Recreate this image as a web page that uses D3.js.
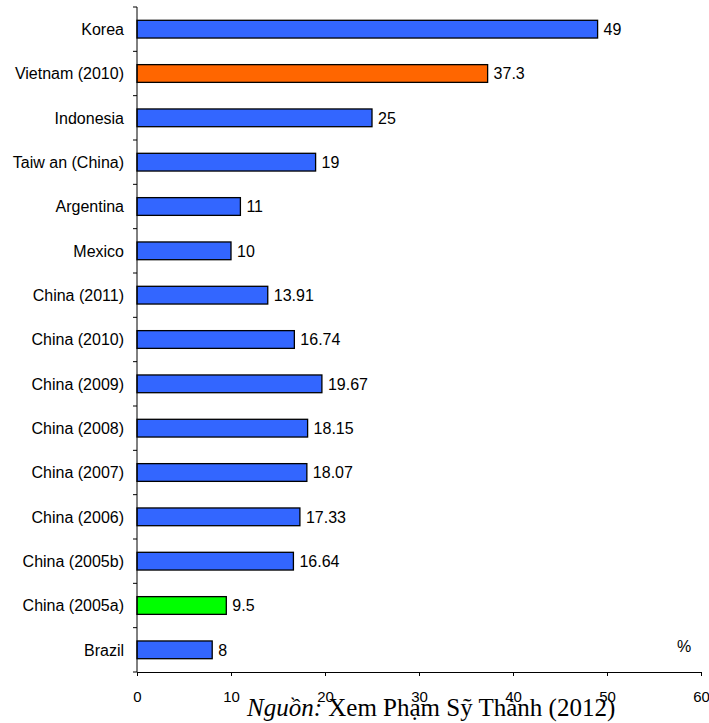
<!DOCTYPE html>
<html>
<head>
<meta charset="utf-8">
<script src="https://cdn.jsdelivr.net/npm/d3@7"></script>
<style>
  html, body { margin: 0; padding: 0; background: #fff; }
  svg { display: block; }
</style>
</head>
<body>
<svg id="chart" width="709" height="723"></svg>
<script>
// Categories listed top to bottom
const categories = [
  "Korea", "Vietnam (2010)", "Indonesia", "Taiw an (China)", "Argentina", "Mexico",
  "China (2011)", "China (2010)", "China (2009)", "China (2008)", "China (2007)",
  "China (2006)", "China (2005b)", "China (2005a)", "Brazil"
];
const values = [49, 37.3, 25, 19, 11, 10, 13.91, 16.74, 19.67, 18.15, 18.07, 17.33, 16.64, 9.5, 8];
const valueLabels = ["49", "37.3", "25", "19", "11", "10", "13.91", "16.74", "19.67", "18.15", "18.07", "17.33", "16.64", "9.5", "8"];
const barColors = ["#3366FF", "#FF6600", "#3366FF", "#3366FF", "#3366FF", "#3366FF", "#3366FF",
  "#3366FF", "#3366FF", "#3366FF", "#3366FF", "#3366FF", "#3366FF", "#00FF00", "#3366FF"];
const xTicks = [0, 10, 20, 30, 40, 50, 60];
const unitLabel = "%";
const sourceItalic = "Nguồn:";
const sourceText = " Xem Phạm Sỹ Thành (2012)";

const svg = d3.select("#chart");
const plotLeft = 137, plotRight = 701, plotTop = 7, plotBottom = 672;

const x = d3.scaleLinear().domain([0, 60]).range([plotLeft, plotRight]);
const y = d3.scaleBand().domain(categories).range([plotTop, plotBottom]).paddingInner(0.6).paddingOuter(0.3);

const sans = "'Liberation Sans', Arial, sans-serif";

// Bars
svg.append("g").selectAll("rect")
  .data(categories)
  .join("rect")
  .attr("x", x(0))
  .attr("y", d => y(d))
  .attr("width", (d, i) => x(values[i]) - x(0))
  .attr("height", y.bandwidth())
  .attr("fill", (d, i) => barColors[i])
  .attr("stroke", "#000")
  .attr("stroke-width", 1.3);

// Value labels
svg.append("g").selectAll("text")
  .data(categories)
  .join("text")
  .attr("x", (d, i) => x(values[i]) + 6)
  .attr("y", d => y(d) + y.bandwidth() / 2)
  .attr("dy", "0.36em")
  .attr("font-family", sans)
  .attr("font-size", 16)
  .attr("fill", "#000")
  .text((d, i) => valueLabels[i]);

// Category axis (ticks at band boundaries)
const yAxisG = svg.append("g").attr("transform", `translate(${plotLeft},0)`);
yAxisG.append("line")
  .attr("x1", 0).attr("x2", 0).attr("y1", plotTop).attr("y2", plotBottom)
  .attr("stroke", "#000").attr("stroke-width", 1);
const step = (plotBottom - plotTop) / categories.length;
yAxisG.selectAll("line.tick")
  .data(d3.range(categories.length + 1))
  .join("line")
  .attr("class", "tick")
  .attr("x1", -4).attr("x2", 0)
  .attr("y1", i => plotTop + i * step).attr("y2", i => plotTop + i * step)
  .attr("stroke", "#000");
yAxisG.selectAll("text")
  .data(categories)
  .join("text")
  .attr("x", -13)
  .attr("y", d => y(d) + y.bandwidth() / 2)
  .attr("dy", "0.36em")
  .attr("text-anchor", "end")
  .attr("font-family", sans)
  .attr("font-size", 16)
  .text(d => d);

// Value axis
const xAxis = d3.axisBottom(x).tickValues(xTicks).tickSize(4).tickSizeOuter(0).tickFormat(d3.format("d"));
const xAxisG = svg.append("g").attr("transform", `translate(0,${plotBottom})`).call(xAxis);
xAxisG.select(".domain").attr("stroke", "#000");
xAxisG.selectAll(".tick line").attr("stroke", "#000");
xAxisG.selectAll(".tick text")
  .attr("font-family", sans)
  .attr("font-size", 15)
  .attr("fill", "#000")
  .attr("y", 19);

// Unit label
svg.append("text")
  .attr("x", 677).attr("y", 652)
  .attr("font-family", sans).attr("font-size", 16)
  .text(unitLabel);

// Source note
const src = svg.append("text")
  .attr("x", 247).attr("y", 716)
  .attr("font-family", "'Liberation Serif', 'Times New Roman', serif")
  .attr("font-size", 25);
src.append("tspan").attr("font-style", "italic").text(sourceItalic);
src.append("tspan").text(sourceText);
</script>
</body>
</html>
